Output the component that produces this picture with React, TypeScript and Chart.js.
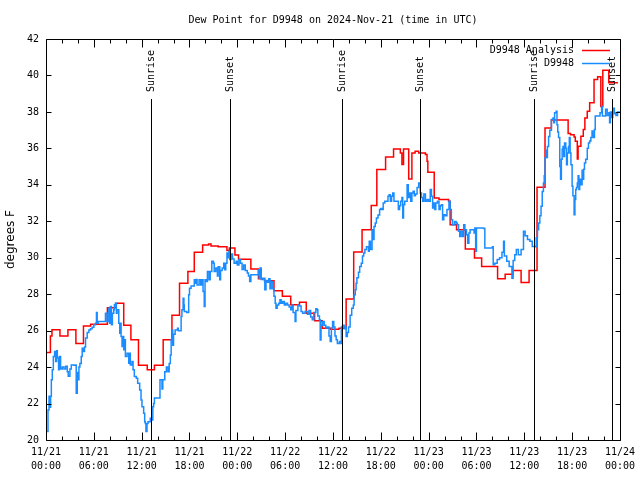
import React, { useEffect, useRef } from 'react';
import { Chart, registerables } from 'chart.js';
Chart.register(...registerables);

const TITLE = 'Dew Point for D9948 on 2024-Nov-21 (time in UTC)';
const Y_LABEL = 'degrees F';
const ANALYSIS_LABEL = 'D9948 Analysis';
const OBS_LABEL = 'D9948';

const tickDates = ['11/21', '11/21', '11/21', '11/21', '11/22', '11/22', '11/22', '11/22', '11/23', '11/23', '11/23', '11/23', '11/24'];
const tickTimes = ['00:00', '06:00', '12:00', '18:00', '00:00', '06:00', '12:00', '18:00', '00:00', '06:00', '12:00', '18:00', '00:00'];

// hours since 11/21 00:00 UTC
const sunriseHours = [13.22, 37.17, 61.21];
const sunsetHours = [23.04, 46.96, 70.96];

// [hour, °F] analysis (hourly steps)
const analysisReadings: [number, number][] = [
  [0, 24.8], [0.55, 25.7], [0.75, 26.05], [1.75, 25.7], [2.75, 26.05], [3.75, 25.3], [4.7, 26.25], [5.6, 26.35],
  [7.7, 27.25], [8.8, 27.5], [9.75, 26.3], [10.65, 25.5], [11.6, 24.1], [12.7, 23.85], [13.6, 24.1], [14.7, 25.5],
  [15.8, 26.85], [16.75, 28.6], [17.8, 29.25], [18.6, 30.3], [19.65, 30.7], [20.4, 30.75], [20.7, 30.65], [21.6, 30.6],
  [22.7, 30.4], [23.0, 30.53], [23.7, 30.15], [24.15, 29.92], [25.7, 29.38], [26.65, 28.85], [27.4, 28.74], [28.6, 28.19],
  [29.65, 27.88], [30.7, 27.42], [31.8, 27.56], [32.65, 26.96], [33.7, 26.54], [34.65, 26.13], [35.7, 26.08], [36.75, 26.13],
  [37.65, 27.73], [38.6, 30.31], [39.65, 31.54], [40.8, 32.86], [41.5, 34.84], [42.6, 35.53], [43.6, 35.97], [44.45, 35.75],
  [44.65, 35.11], [44.85, 35.97], [45.5, 34.32], [45.9, 35.75], [46.3, 35.84], [46.75, 35.75], [47.6, 35.66], [47.8, 35.29],
  [47.9, 34.69], [48.7, 33.28], [49.3, 33.19], [50.5, 33.1], [50.7, 31.81], [51.5, 31.54], [52.6, 30.48], [53.75, 29.98],
  [54.65, 29.52], [56.65, 28.85], [57.6, 29.1], [58.6, 29.3], [59.6, 28.64], [60.6, 29.3], [61.6, 33.87], [62.6, 37.12],
  [63.4, 37.55], [65.5, 36.81], [65.8, 36.75], [66.25, 36.63], [66.4, 36.39], [66.65, 35.42], [66.75, 36.12], [67.1, 36.67],
  [67.4, 37.03], [67.6, 37.67], [67.9, 38.04], [68.2, 38.5], [68.75, 39.78], [69.2, 39.93], [69.6, 38.3], [69.85, 40.29],
  [70.6, 39.6], [71.75, 39.6],
];

// [hour, °F] station observations
const obsReadings: [number, number][] = [
  [0.08, 20.46], [0.25, 21.65], [0.38, 22.4], [0.5, 21.8], [0.58, 22.4], [0.67, 23.3], [0.79, 23.85], [0.92, 24.58],
  [1.08, 24.85], [1.21, 24.3], [1.33, 24.9], [1.42, 24.5], [1.58, 23.85], [1.67, 24.58], [1.83, 23.9], [2.04, 24.0],
  [2.25, 23.9], [2.46, 24.05], [2.67, 23.75], [2.79, 23.5], [3.0, 23.9], [3.17, 24.12], [3.5, 24.1], [3.71, 24.12],
  [3.79, 22.56], [3.92, 23.7], [4.04, 23.3], [4.13, 24.0], [4.25, 24.2], [4.42, 24.58], [4.54, 25.04], [4.67, 24.85],
  [4.83, 25.1], [4.96, 25.59], [5.17, 25.9], [5.38, 26.04], [5.58, 26.1], [5.79, 26.19], [6.0, 26.32], [6.21, 26.41],
  [6.33, 27.0], [6.42, 26.41], [6.54, 26.5], [7.46, 26.96], [7.67, 26.5], [7.88, 27.23], [8.0, 26.41], [8.08, 27.33],
  [8.21, 26.32], [8.33, 26.96], [8.5, 27.14], [8.58, 27.42], [8.71, 27.5], [8.83, 26.96], [8.92, 27.14], [9.13, 26.41],
  [9.25, 25.86], [9.33, 26.41], [9.42, 25.68], [9.54, 25.13], [9.63, 25.68], [9.75, 24.95], [9.88, 25.5], [9.96, 24.58],
  [10.17, 24.76], [10.38, 24.21], [10.5, 24.76], [10.58, 24.12], [10.79, 24.3], [10.92, 23.85], [11.08, 23.48], [11.33, 23.39],
  [11.5, 23.11], [11.75, 22.75], [11.92, 22.2], [12.04, 21.83], [12.25, 21.47], [12.38, 21.0], [12.46, 20.9], [12.54, 20.46],
  [12.67, 20.9], [12.8, 21.0], [13.08, 21.2], [13.3, 21.1], [13.4, 21.83], [13.5, 22.0], [13.6, 22.3], [14.3, 23.3],
  [14.55, 22.8], [14.65, 23.3], [14.9, 23.75], [15.1, 24.0], [15.3, 23.75], [15.45, 24.2], [15.6, 24.67], [15.7, 25.5],
  [15.8, 26.04], [15.9, 25.2], [16.0, 25.8], [16.2, 26.04], [16.5, 26.13], [16.6, 26.0], [16.95, 26.78], [17.05, 27.14],
  [17.2, 27.78], [17.3, 27.4], [17.35, 27.05], [17.65, 27.0], [17.9, 27.97], [18.0, 28.33], [18.2, 28.45], [18.6, 28.79],
  [18.7, 28.6], [18.8, 28.8], [18.95, 28.5], [19.2, 28.79], [19.4, 28.5], [19.55, 28.79], [19.7, 28.15], [19.85, 27.33],
  [19.95, 28.79], [20.1, 28.7], [20.25, 29.25], [20.45, 28.79], [20.6, 29.25], [20.8, 29.8], [21.0, 29.7], [21.1, 29.25],
  [21.3, 29.43], [21.5, 29.0], [21.6, 29.5], [21.8, 28.79], [21.9, 29.3], [22.1, 29.43], [22.3, 29.7], [22.4, 29.34],
  [22.55, 29.7], [22.7, 30.26], [22.85, 30.0], [22.95, 30.35], [23.05, 29.9], [23.2, 30.2], [23.4, 29.93], [23.6, 29.7],
  [23.85, 29.8], [24.0, 29.6], [24.2, 29.9], [24.4, 29.7], [24.6, 29.35], [24.8, 29.6], [25.0, 29.3], [25.25, 29.16],
  [25.4, 29.0], [25.55, 28.7], [25.7, 29.07], [26.5, 29.07], [26.65, 29.34], [26.75, 28.88], [26.85, 29.43], [27.0, 28.8],
  [27.2, 28.88], [27.45, 28.24], [27.6, 28.75], [27.8, 28.65], [27.95, 28.85], [28.1, 28.3], [28.25, 28.7], [28.45, 28.3],
  [28.6, 27.88], [28.75, 27.5], [28.85, 27.23], [29.0, 27.4], [29.2, 27.5], [29.35, 27.7], [29.5, 27.5], [29.7, 27.6],
  [29.9, 27.4], [30.1, 27.5], [30.3, 27.4], [30.5, 27.3], [30.7, 27.14], [30.85, 27.4], [31.0, 27.0], [31.25, 26.5],
  [31.35, 27.1], [31.6, 27.4], [31.8, 27.35], [32.0, 27.05], [32.2, 26.95], [32.5, 27.05], [32.8, 26.9], [33.0, 27.1],
  [33.2, 26.75], [33.4, 26.6], [33.6, 27.0], [33.85, 27.2], [34.0, 27.14], [34.1, 26.8], [34.3, 26.6], [34.4, 25.49],
  [34.5, 26.3], [34.7, 26.5], [34.9, 26.3], [35.1, 26.15], [35.3, 26.2], [35.5, 25.7], [35.65, 25.4], [35.8, 26.15],
  [35.95, 26.5], [36.1, 26.2], [36.25, 25.7], [36.4, 25.5], [36.55, 25.3], [36.8, 25.4], [37.0, 25.3], [37.05, 26.2],
  [37.2, 26.3], [37.4, 26.1], [37.55, 26.2], [37.65, 25.68], [37.8, 25.9], [37.95, 26.2], [38.15, 26.85], [38.35, 27.23],
  [38.55, 27.4], [38.65, 27.97], [38.8, 28.25], [38.9, 28.6], [39.0, 28.9], [39.2, 29.2], [39.35, 29.52], [39.55, 29.7],
  [39.7, 30.1], [39.85, 30.26], [40.0, 30.45], [40.2, 30.6], [40.45, 30.35], [40.55, 30.9], [40.7, 30.45], [40.9, 31.54],
  [41.0, 31.0], [41.15, 31.72], [41.3, 31.9], [41.45, 32.18], [41.65, 32.35], [41.85, 32.64], [42.0, 32.7], [42.15, 32.64],
  [42.3, 33.0], [42.5, 33.1], [42.75, 33.1], [42.9, 33.37], [43.05, 33.45], [43.2, 33.1], [43.35, 33.37], [43.5, 33.55],
  [43.65, 33.1], [44.0, 33.1], [44.2, 32.64], [44.35, 32.85], [44.5, 33.1], [44.65, 33.3], [44.75, 32.18], [44.85, 32.9],
  [45.0, 33.1], [45.3, 34.0], [45.45, 33.3], [45.6, 33.55], [45.75, 33.1], [45.9, 33.55], [46.05, 33.65], [46.2, 33.4],
  [46.35, 33.5], [46.55, 33.85], [46.75, 34.1], [46.95, 33.55], [47.1, 33.3], [47.25, 33.1], [47.4, 33.5], [47.6, 33.1],
  [47.8, 33.2], [48.0, 33.1], [48.2, 33.74], [48.35, 33.37], [48.5, 32.73], [48.6, 33.0], [48.75, 32.64], [48.9, 33.0],
  [49.1, 33.1], [49.3, 32.64], [49.45, 32.85], [49.6, 32.9], [49.75, 32.09], [49.9, 32.36], [50.1, 32.3], [50.3, 32.64],
  [50.55, 33.1], [50.7, 32.64], [50.85, 32.09], [51.0, 31.81], [51.25, 31.99], [51.45, 31.9], [51.6, 31.81], [51.75, 31.45],
  [51.9, 31.17], [52.05, 31.45], [52.25, 31.17], [52.4, 31.81], [52.55, 31.54], [52.75, 31.26], [52.9, 30.8], [53.05, 31.35],
  [53.2, 31.54], [53.5, 31.54], [53.7, 31.35], [53.8, 31.63], [53.9, 30.35], [54.0, 31.63], [54.9, 31.6], [55.05, 30.53],
  [56.0, 30.6], [56.1, 29.61], [56.3, 29.7], [56.6, 29.9], [56.9, 30.0], [57.2, 30.3], [57.4, 30.9], [57.5, 30.1],
  [57.8, 29.8], [58.1, 29.52], [58.45, 28.88], [58.6, 29.85], [58.8, 30.16], [59.0, 30.45], [59.25, 30.16], [59.5, 30.16],
  [59.6, 30.45], [59.9, 31.45], [60.1, 31.2], [60.4, 31.0], [60.7, 30.9], [61.0, 30.62], [61.35, 30.6], [61.5, 31.1],
  [61.65, 31.54], [61.8, 31.9], [61.95, 32.3], [62.1, 32.82], [62.25, 33.64], [62.4, 34.1], [62.5, 34.5], [62.6, 35.48],
  [62.7, 35.9], [62.8, 35.5], [62.9, 36.1], [63.05, 36.65], [63.2, 37.0], [63.4, 37.58], [63.6, 37.67], [63.7, 37.4],
  [63.8, 37.95], [64.0, 38.04], [64.1, 37.3], [64.2, 36.9], [64.3, 36.6], [64.45, 35.0], [64.55, 34.3], [64.65, 35.4],
  [64.75, 35.95], [64.85, 36.1], [64.95, 35.55], [65.05, 36.3], [65.2, 36.0], [65.3, 35.1], [65.4, 35.75], [65.55, 36.1],
  [65.65, 36.6], [65.75, 35.75], [65.85, 35.1], [66.0, 33.92], [66.1, 33.4], [66.25, 32.36], [66.35, 33.2], [66.45, 33.75],
  [66.55, 33.85], [66.65, 34.1], [66.75, 34.5], [66.85, 33.75], [66.95, 34.3], [67.1, 34.0], [67.25, 34.8], [67.35, 34.3],
  [67.45, 34.85], [67.55, 35.2], [67.7, 35.4], [67.9, 36.0], [68.05, 36.3], [68.2, 36.4], [68.35, 36.6], [68.5, 36.95],
  [68.6, 36.7], [68.7, 36.6], [68.8, 37.03], [68.9, 37.77], [69.3, 37.77], [69.5, 37.95], [69.7, 38.3], [69.8, 37.77],
  [70.0, 37.77], [70.2, 38.15], [70.4, 37.8], [70.6, 37.95], [70.7, 37.4], [70.8, 38.0], [70.95, 37.7], [71.1, 38.2],
  [71.3, 37.9], [71.5, 37.8], [71.7, 38.0], [71.95, 37.95],
];

const RED = '#ff0000';
const BLUE = '#1a8cff';
const MONO = "'DejaVu Sans Mono', monospace";

const px = (v: number) => Math.round(v - 0.01) + 0.5;

const gnuplotDecor = {
  id: 'gnuplotDecor',
  afterDatasetsDraw(chart: any) {
    const { ctx, chartArea: a, scales } = chart;
    const xs = scales.x;
    const ys = scales.y;
    const L = px(a.left), R = px(a.right), T = px(a.top), B = px(a.bottom);
    ctx.save();
    ctx.strokeStyle = '#000';
    ctx.lineWidth = 1;
    ctx.beginPath();
    ctx.rect(L, T, R - L, B - T);
    for (let h = 0; h <= 72; h += 2) {
      const x = px(xs.getPixelForValue(h));
      const len = h % 6 === 0 ? 8 : 4;
      ctx.moveTo(x, B); ctx.lineTo(x, B - len);
      ctx.moveTo(x, T); ctx.lineTo(x, T + len);
    }
    for (let v = 20; v <= 42; v += 2) {
      const y = px(ys.getPixelForValue(v));
      ctx.moveTo(L, y); ctx.lineTo(L + 5, y);
      ctx.moveTo(R, y); ctx.lineTo(R - 5, y);
    }
    ctx.stroke();

    // sunrise / sunset markers
    ctx.font = `10px ${MONO}`;
    ctx.fillStyle = '#000';
    const marks: [number, string][] = [
      ...sunriseHours.map((h) => [h, 'Sunrise'] as [number, string]),
      ...sunsetHours.map((h) => [h, 'Sunset'] as [number, string]),
    ];
    ctx.beginPath();
    for (const [h] of marks) {
      const x = px(xs.getPixelForValue(h));
      ctx.moveTo(x, 99);
      ctx.lineTo(x, B);
    }
    ctx.stroke();
    for (const [h, label] of marks) {
      const x = px(xs.getPixelForValue(h));
      ctx.save();
      ctx.translate(x - 0.5, 92);
      ctx.rotate(-Math.PI / 2);
      ctx.textAlign = 'left';
      ctx.textBaseline = 'middle';
      ctx.fillText(label, 0, 0);
      ctx.restore();
    }

    // legend
    chart.data.datasets.forEach((ds: any, i: number) => {
      const y = 50 + i * 13;
      ctx.textAlign = 'right';
      ctx.textBaseline = 'middle';
      ctx.fillStyle = '#000';
      ctx.fillText(ds.label, 574, y);
      ctx.strokeStyle = ds.borderColor;
      ctx.lineWidth = 1.5;
      ctx.beginPath();
      ctx.moveTo(582, y + 0.5);
      ctx.lineTo(610, y + 0.5);
      ctx.stroke();
    });

    // title
    ctx.fillStyle = '#000';
    ctx.textAlign = 'center';
    ctx.textBaseline = 'middle';
    ctx.fillText(TITLE, (a.left + a.right) / 2, 20);
    ctx.restore();
  },
};

export default function App() {
  const ref = useRef<HTMLCanvasElement>(null);
  useEffect(() => {
    if (!ref.current) return;
    const chart = new Chart(ref.current, {
      type: 'line',
      data: {
        datasets: [
          {
            label: ANALYSIS_LABEL,
            data: analysisReadings.map(([x, y]) => ({ x, y })),
            borderColor: RED,
            backgroundColor: RED,
            borderWidth: 1.5,
            stepped: 'before',
            pointRadius: 0,
            fill: false,
            order: 1,
          },
          {
            label: OBS_LABEL,
            data: obsReadings.map(([x, y]) => ({ x, y })),
            borderColor: BLUE,
            backgroundColor: BLUE,
            borderWidth: 1.5,
            stepped: 'before',
            pointRadius: 0,
            fill: false,
            order: 0,
          },
        ],
      },
      options: {
        animation: false,
        responsive: false,
        devicePixelRatio: 1,
        layout: { padding: { top: 39, right: 18.5, bottom: 0, left: 0 } },
        plugins: {
          legend: { display: false },
          tooltip: { enabled: false },
          title: { display: false },
        },
        elements: { point: { radius: 0 }, line: { tension: 0 } },
        scales: {
          x: {
            type: 'linear',
            min: 0,
            max: 72,
            grid: { display: false, drawTicks: false },
            border: { display: false },
            ticks: {
              stepSize: 6,
              autoSkip: false,
              maxRotation: 0,
              minRotation: 0,
              padding: 5,
              color: '#000',
              font: { family: MONO, size: 10, lineHeight: 1.4 },
              callback: (_v: any, i: number) => [tickDates[i], tickTimes[i]],
            },
            afterFit: (s: any) => { s.height = 40; },
          },
          y: {
            type: 'linear',
            min: 20,
            max: 42,
            grid: { display: false, drawTicks: false },
            border: { display: false },
            ticks: {
              stepSize: 2,
              padding: 7,
              color: '#000',
              font: { family: MONO, size: 10 },
            },
            title: {
              display: true,
              text: Y_LABEL,
              color: '#000',
              font: { family: "'DejaVu Sans', sans-serif", size: 12 },
              padding: { top: 4, bottom: 0 },
            },
            afterFit: (s: any) => { s.width = 46; },
          },
        },
      } as any,
      plugins: [gnuplotDecor],
    });
    return () => chart.destroy();
  }, []);
  return (
    <div style={{ position: 'fixed', left: 0, top: 0, width: 640, height: 480, background: '#fff' }}>
      <canvas ref={ref} width={640} height={480} style={{ display: 'block', width: 640, height: 480 }} />
    </div>
  );
}
